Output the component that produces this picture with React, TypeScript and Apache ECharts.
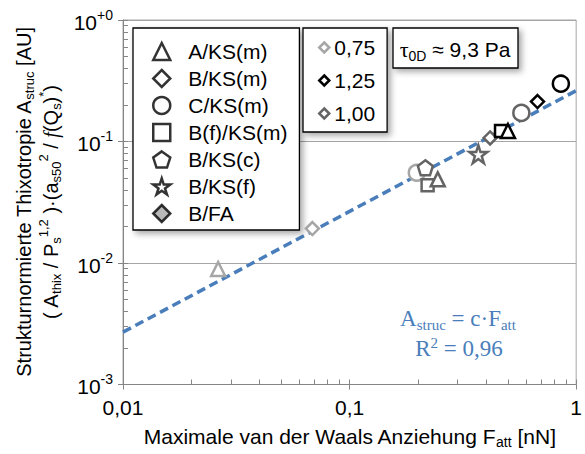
import React, { useEffect, useRef } from 'react';
import * as echarts from 'echarts';

const BLUE = '#4a7ebb';
const LIGHT = '#a6a6a6';
const DARK = '#646464';
const BLACK = '#000000';
const FONT = "'Liberation Sans', Arial, sans-serif";
const SERIF = "'Liberation Serif', 'Times New Roman', serif";

// group "0,75" (light gray)
const fLight = [0.0263, 0.0685, 0.198];
const aLight = [0.00893, 0.0192, 0.0553];
const shapeLight = ['triangle', 'diamond', 'circle'];
// group "1,00" (dark gray)
const fDark = [0.216, 0.221, 0.245, 0.37, 0.417, 0.573];
const aDark = [0.0608, 0.0436, 0.0488, 0.0786, 0.107, 0.172];
const shapeDark = ['pentagon', 'square', 'triangle', 'star', 'diamond', 'circle'];
// group "1,25" (black)
const fBlack = [0.466, 0.5, 0.675, 0.856];
const aBlack = [0.122, 0.122, 0.213, 0.299];
const shapeBlack = ['square', 'triangle', 'diamond', 'circle'];

// fit line A_struc = c * F_att
const fitF = [0.01, 1];
const fitA = [0.0027, 0.262];

const shapeLegendNames = ['A/KS(m)', 'B/KS(m)', 'C/KS(m)', 'B(f)/KS(m)', 'B/KS(c)', 'B/KS(f)', 'B/FA'];
const shapeLegendKeys = ['triangle', 'diamond', 'circle', 'square', 'pentagon', 'star', 'diamond'];
const groupNames = ['0,75', '1,25', '1,00'];

const xTickValues = [0.01, 0.02, 0.03, 0.04, 0.05, 0.06, 0.07, 0.08, 0.09, 0.1, 0.2, 0.3, 0.4, 0.5, 0.6, 0.7, 0.8, 0.9, 1];
const yTickValues = [
  0.001, 0.002, 0.003, 0.004, 0.005, 0.006, 0.007, 0.008, 0.009,
  0.01, 0.02, 0.03, 0.04, 0.05, 0.06, 0.07, 0.08, 0.09,
  0.1, 0.2, 0.3, 0.4, 0.5, 0.6, 0.7, 0.8, 0.9, 1,
];

const SYM: Record<string, string> = {
  triangle: 'triangle',
  diamond: 'diamond',
  circle: 'circle',
  square: 'rect',
  pentagon: 'path://M0,-10L9.511,-3.09L5.878,8.09L-5.878,8.09L-9.511,-3.09Z',
  star: 'path://M0,-10L2.245,-3.09L9.511,-3.09L3.633,1.18L5.878,8.09L0,3.82L-5.878,8.09L-3.633,1.18L-9.511,-3.09L-2.245,-3.09Z',
};
const SIZE: Record<string, number> = {
  triangle: 14, diamond: 13, circle: 16, square: 12, pentagon: 15, star: 18,
};

function groupSeries(name: string, color: string, fs: number[], as: number[], shapes: string[]) {
  return {
    type: 'scatter',
    name,
    symbol: 'diamond',
    z: 5,
    itemStyle: { color: '#ffffff', borderColor: color, borderWidth: 2.5, opacity: 1 },
    data: fs.map((f, i) => ({
      value: [f, as[i]],
      symbol: SYM[shapes[i]],
      symbolSize: SIZE[shapes[i]],
    })),
  };
}

export default function App() {
  const ref = useRef<HTMLDivElement>(null);
  useEffect(() => {
    if (!ref.current) return;
    const chart = echarts.init(ref.current, undefined, { renderer: 'svg' });

    const subStyle = { fontSize: 14, height: 9, verticalAlign: 'bottom', fontFamily: FONT, color: BLACK };
    const supStyle = { fontSize: 14, height: 18, verticalAlign: 'top', fontFamily: FONT, color: BLACK };

    const series: any[] = [
      {
        type: 'line',
        name: 'fit',
        data: fitF.map((f, i) => [f, fitA[i]]),
        showSymbol: false,
        symbol: 'none',
        z: 2,
        lineStyle: { color: BLUE, width: 3.5, type: [9, 5] },
      },
      groupSeries(groupNames[0], LIGHT, fLight, aLight, shapeLight),
      groupSeries(groupNames[2], DARK, fDark, aDark, shapeDark),
      groupSeries(groupNames[1], BLACK, fBlack, aBlack, shapeBlack),
      ...shapeLegendNames.map((n, i) => ({
        type: 'scatter',
        name: n,
        symbol: SYM[shapeLegendKeys[i]],
        itemStyle: { color: n === 'B/FA' ? LIGHT : '#ffffff', borderColor: BLACK, borderWidth: 2.5 },
        data: [],
      })),
    ];

    chart.setOption({
      animation: false,
      textStyle: { fontFamily: FONT },
      grid: {
        left: 123, right: 7, top: 20, bottom: 67,
        show: true, borderColor: LIGHT, borderWidth: 1, backgroundColor: 'transparent',
      },
      legend: [
        {
          data: shapeLegendNames,
          orient: 'vertical',
          left: 133,
          top: 28,
          itemWidth: 17,
          itemHeight: 17,
          itemGap: 6,
          padding: [13, 12, 6, 19],
          backgroundColor: '#ffffff',
          borderColor: BLACK,
          borderWidth: 1.3,
          shadowColor: 'rgba(0,0,0,0.35)',
          shadowBlur: 6,
          shadowOffsetX: 3,
          shadowOffsetY: 3,
          itemStyle: { borderWidth: 2.5 },
          textStyle: { fontSize: 21, color: BLACK, fontFamily: FONT, padding: [0, 0, 0, 13] },
          selectedMode: false,
        },
        {
          data: groupNames,
          orient: 'vertical',
          left: 303,
          top: 28,
          itemWidth: 10,
          itemHeight: 10,
          itemGap: 12,
          padding: [9, 12, 8, 15],
          backgroundColor: '#ffffff',
          borderColor: BLACK,
          borderWidth: 1.3,
          shadowColor: 'rgba(0,0,0,0.35)',
          shadowBlur: 6,
          shadowOffsetX: 3,
          shadowOffsetY: 3,
          itemStyle: { borderWidth: 2.5 },
          textStyle: { fontSize: 21, color: BLACK, fontFamily: FONT },
          selectedMode: false,
        },
      ],
      xAxis: [
        {
          type: 'log',
          logBase: 10,
          min: 0.01,
          max: 1,
          position: 'bottom',
          axisLine: { show: true, lineStyle: { color: '#868686', width: 1 } },
          axisTick: { show: true, inside: false, length: 5, lineStyle: { color: '#868686' } },
          axisLabel: {
            margin: 12,
            fontSize: 21,
            color: BLACK,
            fontFamily: FONT,
            formatter: (v: number) => String(Number(v.toPrecision(3))).replace('.', ','),
          },
          splitLine: { show: false },
          name: '{t|Maximale van der Waals Anziehung F}{sub|att}{t| [nN]}',
          nameLocation: 'middle',
          nameGap: 37,
          nameTextStyle: {
            rich: {
              t: { fontSize: 21, lineHeight: 25, verticalAlign: 'bottom', fontFamily: FONT, color: BLACK },
              sub: subStyle,
            },
          },
        },
        {
          type: 'log',
          logBase: 10,
          min: 0.01,
          max: 1,
          position: 'bottom',
          offset: 0,
          axisLine: { show: false },
          axisLabel: { show: false },
          splitLine: { show: false },
          axisTick: { show: true, inside: true, length: 5, customValues: xTickValues, lineStyle: { color: '#868686' } },
        },
      ],
      yAxis: [
        {
          type: 'log',
          logBase: 10,
          min: 0.001,
          max: 1,
          position: 'left',
          axisLine: { show: true, lineStyle: { color: '#868686', width: 1 } },
          axisTick: { show: true, inside: false, length: 5, lineStyle: { color: '#868686' } },
          splitLine: { show: true, lineStyle: { color: LIGHT, width: 1 } },
          axisLabel: {
            margin: 10,
            formatter: (v: number) => {
              const e = Math.round(Math.log10(v));
              return `{b|10}{s|${e === 0 ? '+0' : String(e)}}`;
            },
            rich: {
              b: { fontSize: 21, lineHeight: 25, verticalAlign: 'bottom', color: BLACK, fontFamily: FONT },
              s: { fontSize: 14, lineHeight: 12, verticalAlign: 'top', color: BLACK, fontFamily: FONT },
            },
          },
          name:
            '{t|Strukturnormierte Thixotropie A}{sub|struc}{t| [AU]}\n' +
            '{t|( A}{sub|thix}{t| / P}{sub|s}{sup|1,2}{t| )·(a}{sub|s50}{sup|2}{t| / }{it|f}{t|(Q}{sub|s}{t|)}{sup|*}{t|)}',
          nameLocation: 'middle',
          nameRotate: 90,
          nameGap: 56,
          nameTextStyle: {
            rich: {
              t: { fontSize: 20, lineHeight: 27, verticalAlign: 'bottom', fontFamily: FONT, color: BLACK },
              it: { fontSize: 20, lineHeight: 27, verticalAlign: 'bottom', fontFamily: SERIF, fontStyle: 'italic', color: BLACK },
              sub: { ...subStyle, fontSize: 13, height: 10 },
              sup: { ...supStyle, fontSize: 13, height: 18 },
            },
          },
        },
        {
          type: 'log',
          logBase: 10,
          min: 0.001,
          max: 1,
          position: 'left',
          offset: 0,
          axisLine: { show: false },
          axisLabel: { show: false },
          splitLine: { show: false },
          axisTick: { show: true, inside: true, length: 5, customValues: yTickValues, lineStyle: { color: '#868686' } },
        },
      ],
      graphic: [
        {
          type: 'rect',
          shape: { x: 393, y: 28, width: 125, height: 40 },
          style: {
            fill: '#ffffff', stroke: BLACK, lineWidth: 1.3,
            shadowColor: 'rgba(0,0,0,0.35)', shadowBlur: 6, shadowOffsetX: 3, shadowOffsetY: 3,
          },
          z: 100,
        },
        {
          type: 'text',
          x: 455,
          y: 48,
          z: 101,
          style: {
            text: '{g|τ}{sub|0D}{t| ≈ 9,3 Pa}',
            align: 'center',
            verticalAlign: 'middle',
            rich: {
              g: { fontSize: 22, lineHeight: 24, verticalAlign: 'bottom', fontFamily: SERIF, fill: BLACK },
              t: { fontSize: 21, lineHeight: 24, verticalAlign: 'bottom', fontFamily: FONT, fill: BLACK },
              sub: { fontSize: 14, height: 9, verticalAlign: 'bottom', fontFamily: FONT, fill: BLACK },
            },
          },
        },
        {
          type: 'text',
          x: 458,
          y: 318,
          z: 101,
          style: {
            text: '{t|A}{sub|struc}{t| = c·F}{sub|att}',
            align: 'center',
            verticalAlign: 'middle',
            rich: {
              t: { fontSize: 23, lineHeight: 24, verticalAlign: 'bottom', fontFamily: SERIF, fill: BLUE },
              sub: { fontSize: 15, height: 10, verticalAlign: 'bottom', fontFamily: SERIF, fill: BLUE },
            },
          },
        },
        {
          type: 'text',
          x: 459,
          y: 348,
          z: 101,
          style: {
            text: '{t|R}{sup|2}{t| = 0,96}',
            align: 'center',
            verticalAlign: 'middle',
            rich: {
              t: { fontSize: 23, lineHeight: 24, verticalAlign: 'bottom', fontFamily: SERIF, fill: BLUE },
              sup: { fontSize: 15, height: 14, verticalAlign: 'top', fontFamily: SERIF, fill: BLUE },
            },
          },
        },
      ],
      series,
    });
    return () => chart.dispose();
  }, []);
  return <div ref={ref} style={{ width: 585, height: 454, position: 'absolute', left: 0, top: 0 }} />;
}
